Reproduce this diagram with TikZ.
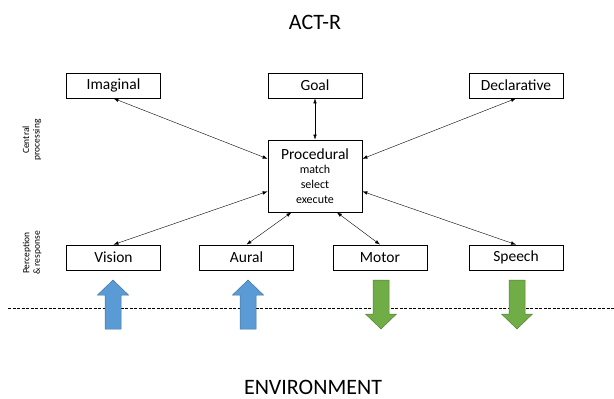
\documentclass[tikz,border=0pt]{standalone}
\usepackage{fontspec}
\setmainfont{Carlito}
\usepackage{tikz}
\usetikzlibrary{arrows.meta,calc}
\definecolor{inblue}{HTML}{5B9BD5}
\definecolor{outgreen}{HTML}{70AD47}

\begin{document}
\begin{tikzpicture}[x=1pt,y=-1pt,
    module/.style={rectangle,draw,line width=0.8pt,minimum width=94pt,minimum height=25pt,inner sep=0pt,font=\fontsize{15.5}{17}\selectfont},
    link/.style={<->,line width=0.4pt},
    >={Latex[length=5pt,width=3.5pt]}]
    \useasboundingbox (0,0) rectangle (614,399);

    % Titles
    \node[font=\fontsize{22}{25}\selectfont,inner sep=0pt,anchor=base] (title) at (315,29) {ACT-R};
    \node[font=\fontsize{22}{25}\selectfont,inner sep=0pt,anchor=base] (env) at (313,394) {ENVIRONMENT};

    % Side labels
    \node[rotate=90,align=center,font=\fontsize{9.5}{10.5}\selectfont] (central) at (32,140) {Central\\processing};
    \node[rotate=90,align=center,font=\fontsize{9.5}{10.5}\selectfont] (percep) at (32,253) {Perception\\\& response};

    % Buffers on top
    \node[module] (imag) at (113.5,85.5) {Imaginal};
    \node[module] (goal) at (315,85.5) {Goal};
    \node[module] (decl) at (516,85.5) {Declarative};

    % Procedural module
    \node[module,minimum height=72pt,align=center,font=\fontsize{12}{15}\selectfont] (proc) at (315,176)
        {{\fontsize{15.5}{17}\selectfont Procedural}\\[-1pt]match\\select\\execute};

    % Perception and response modules
    \node[module] (vision) at (113.5,257.5) {Vision};
    \node[module] (aural) at (246.5,257.5) {Aural};
    \node[module] (motor) at (380,257.5) {Motor};
    \node[module] (speech) at (516,257.5) {Speech};

    % Links to procedural
    \draw[link] (imag.south) -- (proc.160);
    \draw[link] (goal.south) -- (proc.north);
    \draw[link] (decl.south) -- (proc.20);
    \draw[link] (vision.north) -- (proc.198);
    \draw[link] (aural.north) -- (proc.237);
    \draw[link] (motor.north) -- (proc.301);
    \draw[link] (speech.north) -- (proc.-18);

    % Boundary to the environment
    \coordinate (bl) at (8,308);
    \coordinate (br) at (614,308);
    \draw[dash pattern=on 3pt off 1.5pt,line width=0.6pt] (bl) -- (br);

    % Input arrows
    \foreach \cx in {113,248}
        \filldraw[fill=inblue,draw=inblue!75!black,line width=0.5pt]
            (\cx-8,329) -- (\cx-8,295) -- (\cx-15.5,295) -- (\cx,280) -- (\cx+15.5,295) -- (\cx+8,295) -- (\cx+8,329) -- cycle;

    % Output arrows
    \foreach \cx in {381,517}
        \filldraw[fill=outgreen,draw=outgreen!75!black,line width=0.5pt]
            (\cx-8,280) -- (\cx-8,314) -- (\cx-15.5,314) -- (\cx,329) -- (\cx+15.5,314) -- (\cx+8,314) -- (\cx+8,280) -- cycle;
\end{tikzpicture}
\end{document}
